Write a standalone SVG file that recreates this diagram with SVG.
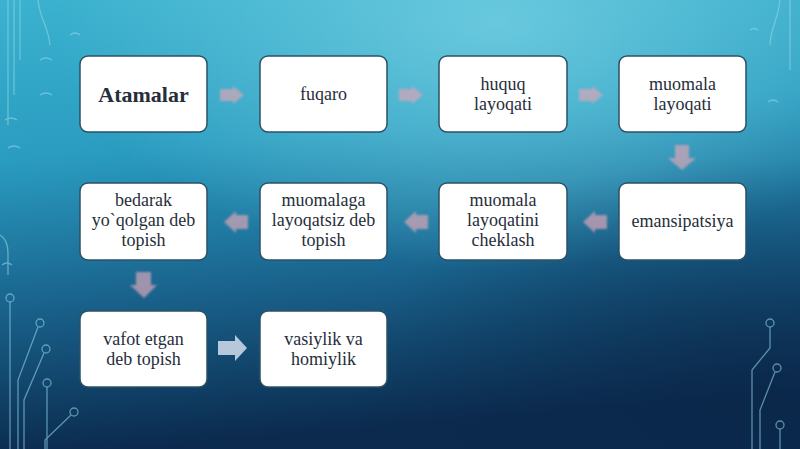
<svg xmlns="http://www.w3.org/2000/svg" width="800" height="449" viewBox="0 0 800 449">
<defs>
<linearGradient id="bg" x1="0" y1="0" x2="0.15" y2="1">
<stop offset="0" stop-color="#3bb2cf"/>
<stop offset="0.35" stop-color="#2a9cc0"/>
<stop offset="0.65" stop-color="#1a6690"/>
<stop offset="1" stop-color="#0b2a4e"/>
</linearGradient>
<radialGradient id="hl" cx="0.62" cy="0.05" r="0.55">
<stop offset="0" stop-color="#7fd6e6" stop-opacity="0.7"/>
<stop offset="1" stop-color="#7fd6e6" stop-opacity="0"/>
</radialGradient>
<radialGradient id="dk" cx="0.95" cy="0.85" r="0.5">
<stop offset="0" stop-color="#0a2648" stop-opacity="0.6"/>
<stop offset="1" stop-color="#0a2648" stop-opacity="0"/>
</radialGradient>
<filter id="soft" x="-20%" y="-20%" width="140%" height="140%"><feGaussianBlur stdDeviation="1.2"/></filter>
<style>
.box{fill:#ffffff;stroke:#2b5266;stroke-width:1.5}
.t{font-family:"Liberation Serif","DejaVu Serif",serif;font-size:18px;fill:#262e3a;text-anchor:middle}
.b{font-weight:bold;font-size:22px}
.ar{fill:#d9a6b8;opacity:0.7;filter:url(#soft)}
.ar2{fill:#c8d6e6;opacity:0.9}
.c{fill:none;stroke:#8fd3e6;stroke-width:1.3;opacity:0.6}
</style>
</defs>
<rect width="800" height="449" fill="url(#bg)"/>
<rect width="800" height="449" fill="url(#hl)"/>
<rect width="800" height="449" fill="url(#dk)"/>
<g id="decor" class="c">
<path d="M8 0 V125 M14 0 V95 M20 0 V60 M38 0 C40 20 48 25 50 45"/>
<path d="M40 60 q6 -4 12 0 M40 95 q6 -4 12 0 M70 35 q5 -4 10 0 M5 120 q6 -4 12 0 M8 148 q6 -4 12 0"/>
<path d="M0 235 q8 5 8 18 V275 M2 265 q5 -4 10 0"/>
<circle cx="10" cy="298" r="4"/><path d="M10 302 V449"/>
<circle cx="40" cy="323" r="4"/><path d="M38 327 L18 380 V449"/>
<circle cx="46" cy="349" r="4"/><path d="M44 353 L24 400 V449"/>
<circle cx="47" cy="383" r="4"/><path d="M47 387 V449"/>
<circle cx="74" cy="412" r="4"/><path d="M71 415 L45 440 V449"/>
<circle cx="770" cy="323" r="4"/><path d="M770 327 V348 L752 370 V449"/>
<circle cx="777" cy="368" r="4"/><path d="M775 372 L760 410 V449"/>
<circle cx="780" cy="425" r="4"/><path d="M780 429 V449"/>
<path d="M790 0 V70 M780 0 C778 20 770 30 770 45 M768 102 q5 -4 10 0 M750 30 q4 -3 8 0"/>
</g>
<g id="connectors">
<path class="ar" d="M220 89 H233 V86 L244 95 L233 104 V101 H220 Z"/>
<path class="ar" d="M399 89 H412 V86 L423 95 L412 104 V101 H399 Z"/>
<path class="ar" d="M579 89 H592 V86 L603 95 L592 104 V101 H579 Z"/>
<path class="ar" d="M675 145 V158 H668 L682 170 L696 158 H689 V145 Z"/>
<path class="ar" d="M607 215 H595 V211 L583 222 L595 233 V229 H607 Z"/>
<path class="ar" d="M428 215 H416 V211 L404 222 L416 233 V229 H428 Z"/>
<path class="ar" d="M248 215 H236 V211 L224 222 L236 233 V229 H248 Z"/>
<path class="ar" d="M136 272 V285 H130 L144 298 L157 285 H151 V272 Z"/>
<path class="ar2" d="M218 341 H235 V335 L247 348 L235 361 V355 H218 Z"/>
</g>
<g id="n1"><rect class="box" x="80" y="56" width="127" height="76" rx="8"/><text class="t b" x="143.5" y="102">Atamalar</text></g>
<g id="n2"><rect class="box" x="260" y="56" width="127" height="76" rx="8"/><text class="t" x="323.5" y="100">fuqaro</text></g>
<g id="n3"><rect class="box" x="439" y="56" width="128" height="76" rx="8"/><text class="t" x="503" y="90">huquq</text><text class="t" x="503" y="110">layoqati</text></g>
<g id="n4"><rect class="box" x="619" y="56" width="127" height="76" rx="8"/><text class="t" x="682.5" y="90">muomala</text><text class="t" x="682.5" y="110">layoqati</text></g>
<g id="n5"><rect class="box" x="619" y="183" width="127" height="77" rx="8"/><text class="t" x="682.5" y="227">emansipatsiya</text></g>
<g id="n6"><rect class="box" x="439" y="183" width="128" height="77" rx="8"/><text class="t" x="503" y="206">muomala</text><text class="t" x="503" y="226">layoqatini</text><text class="t" x="503" y="246">cheklash</text></g>
<g id="n7"><rect class="box" x="260" y="183" width="127" height="77" rx="8"/><text class="t" x="323.5" y="206">muomalaga</text><text class="t" x="323.5" y="226">layoqatsiz deb</text><text class="t" x="323.5" y="246">topish</text></g>
<g id="n8"><rect class="box" x="80" y="183" width="127" height="77" rx="8"/><text class="t" x="143.5" y="206">bedarak</text><text class="t" x="143.5" y="226">yo`qolgan deb</text><text class="t" x="143.5" y="246">topish</text></g>
<g id="n9"><rect class="box" x="80" y="311" width="127" height="76" rx="8"/><text class="t" x="143.5" y="345">vafot etgan</text><text class="t" x="143.5" y="365">deb topish</text></g>
<g id="n10"><rect class="box" x="260" y="311" width="127" height="76" rx="8"/><text class="t" x="323.5" y="345">vasiylik va</text><text class="t" x="323.5" y="365">homiylik</text></g>
</svg>
